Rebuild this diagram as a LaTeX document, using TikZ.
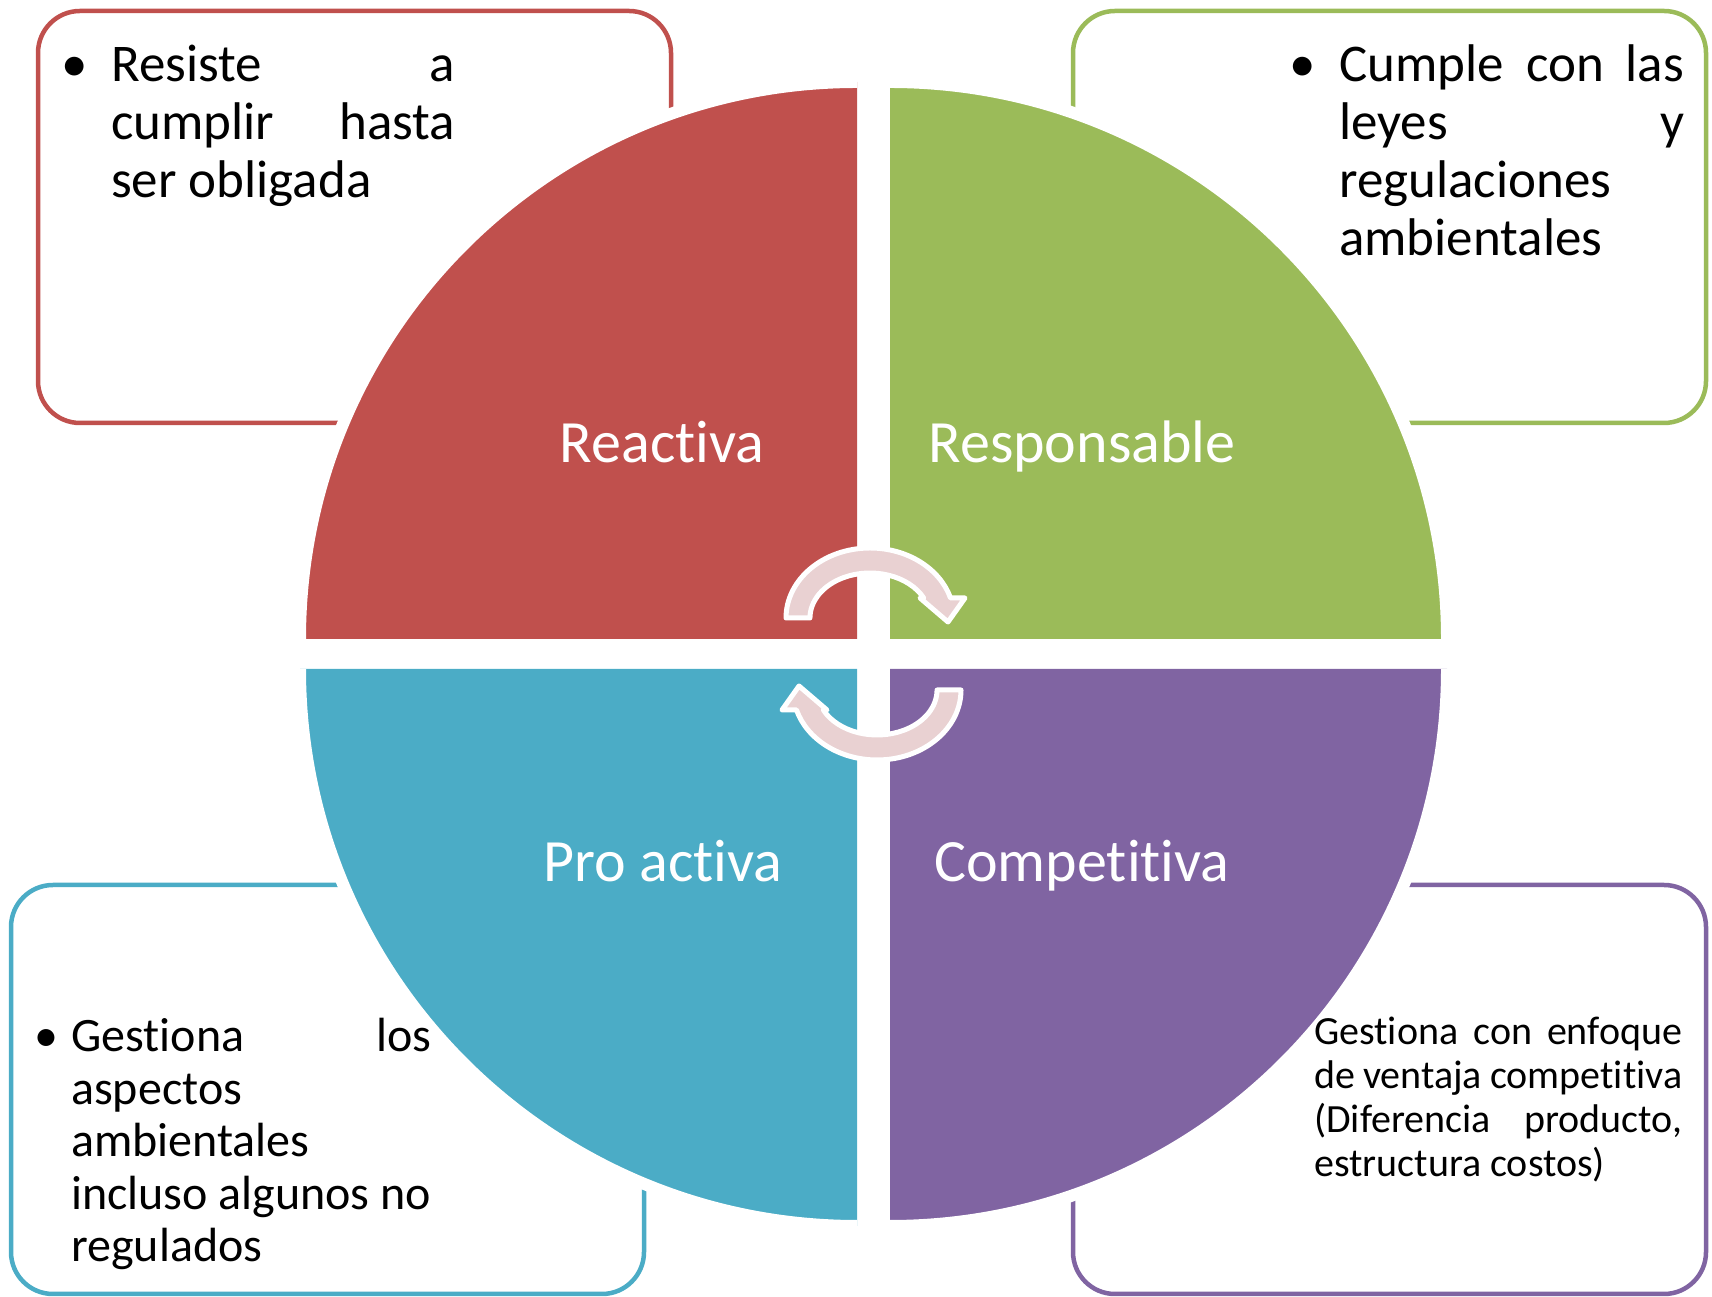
\documentclass[tikz,border=0pt]{standalone}
\usepackage{fontspec}
\setmainfont{Carlito}[Ligatures=NoCommon]
\definecolor{cRed}{HTML}{C0504D}
\definecolor{cGreen}{HTML}{9BBB59}
\definecolor{cBlue}{HTML}{4BACC6}
\definecolor{cPurple}{HTML}{8064A2}
\definecolor{arrowpink}{HTML}{E9D1D2}
\begin{document}
\begin{tikzpicture}[x=1pt,y=1pt,
  boxstyle/.style={line width=4.5pt, rounded corners=42pt, fill=white},
  qlabel/.style={text=white, font=\fontsize{60}{72}\selectfont, inner sep=0pt, anchor=base},
  btext/.style={inner sep=0pt, anchor=base west, align=justify},
  cyc/.style={fill=arrowpink, draw=white, line width=5pt, line join=round},
  gapline/.style={draw=white, line width=12pt}
]
\tolerance=10000 \hbadness=10000
\useasboundingbox (0,0) rectangle (1712,1297);
% side boxes
\draw[boxstyle, draw=cRed] (38,874) rectangle (671,1286);
\draw[boxstyle, draw=cGreen] (1073,874) rectangle (1706,1286);
\draw[boxstyle, draw=cBlue] (11,3) rectangle (644,412);
\draw[boxstyle, draw=cPurple] (1073,3) rectangle (1706,412);
% quadrants
\fill[cRed] (857,658) -- (300,658) arc[start angle=180, end angle=90, radius=557pt] -- cycle;
\fill[cGreen] (890,658) -- (890,1215) arc[start angle=90, end angle=0, radius=557pt] -- cycle;
\fill[cBlue] (857,628) -- (300,628) arc[start angle=180, end angle=270, radius=557pt] -- cycle;
\fill[cPurple] (890,628) -- (1447,628) arc[start angle=0, end angle=-90, radius=557pt] -- cycle;
\draw[gapline] (300,658) arc[start angle=180, end angle=90, radius=557pt];
\draw[gapline] (890,1215) arc[start angle=90, end angle=0, radius=557pt];
\draw[gapline] (300,628) arc[start angle=180, end angle=270, radius=557pt];
\draw[gapline] (1447,628) arc[start angle=0, end angle=-90, radius=557pt];
% quadrant labels
\node[qlabel] (reactiva) at (662,834) {Reactiva};
\node[qlabel] (responsable) at (1082,834) {Responsable};
\node[qlabel] (proactiva) at (663,415) {Pro activa};
\node[qlabel] (competitiva) at (1082,415) {Competitiva};
% cycle arrows
\path[cyc] (786,679) arc[start angle=180, end angle=16.6, x radius=84pt, y radius=70pt]
  -- (965,699) -- (948,675) -- (920,699) -- (923.7,699)
  arc[start angle=26.4, end angle=180, x radius=60pt, y radius=45pt] -- cycle;
\begin{scope}[rotate around={180:(873.5,643)}]
\path[cyc] (786,679) arc[start angle=180, end angle=16.6, x radius=84pt, y radius=70pt]
  -- (965,699) -- (948,675) -- (920,699) -- (923.7,699)
  arc[start angle=26.4, end angle=180, x radius=60pt, y radius=45pt] -- cycle;
\end{scope}
% box texts
\node[btext, text width=344pt, font=\fontsize{53}{58}\selectfont] (tltext) at (111,1215)
  {\noindent\llap{\textbullet\hspace{23pt}}Resiste a\linebreak cumplir hasta\linebreak ser obligada};
\node[btext, text width=345pt, font=\fontsize{53}{58}\selectfont] (trtext) at (1339,1215)
  {\noindent\llap{\textbullet\hspace{23pt}}Cumple con las\linebreak leyes y\linebreak regulaciones\linebreak ambientales};
\node[btext, text width=360pt, font=\fontsize{48}{52.5}\selectfont] (bltext) at (71,245)
  {\noindent\llap{\textbullet\hspace{13pt}}Gestiona los\linebreak aspectos\linebreak ambientales\linebreak incluso algunos no\linebreak regulados};
\node[btext, text width=368pt, font=\fontsize{40}{44}\selectfont] (brtext) at (1314,252)
  {\noindent Gestiona con enfoque\linebreak de ventaja competitiva\linebreak (Diferencia producto,\linebreak estructura costos)};
\end{tikzpicture}
\end{document}
